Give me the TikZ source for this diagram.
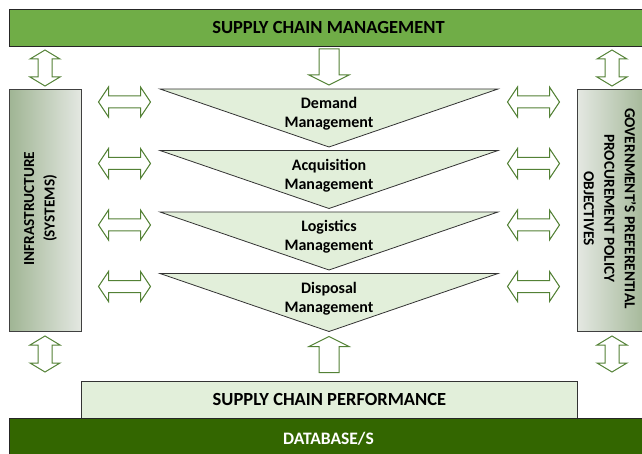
\documentclass[tikz,border=0pt]{standalone}
\usepackage{fontspec}
\setmainfont{Carlito}
\usetikzlibrary{shapes,positioning}

\definecolor{scmgreen}{RGB}{112,173,71}
\definecolor{dbgreen}{RGB}{51,102,0}
\definecolor{palegreen}{RGB}{226,239,218}
\definecolor{arrowgreen}{RGB}{83,129,53}
\definecolor{sidedark}{RGB}{160,181,148}
\definecolor{sidelight}{RGB}{228,232,226}

\begin{document}
\begin{tikzpicture}[x=1pt,y=-1pt]
\tikzset{
bar/.style={rectangle,draw=black!85,line width=0.9pt,anchor=north west,font=\bfseries\fontsize{18.5}{20}\selectfont},
sidebox/.style={rectangle,draw=black!75,line width=0.9pt,anchor=north west,minimum width=72pt,minimum height=242pt},
sidetext/.style={font=\bfseries\fontsize{15.3}{20.5}\selectfont,align=center},
stage/.style={draw=black!80,line width=0.8pt,fill=palegreen},
stagetext/.style={font=\bfseries\fontsize{16}{19}\selectfont,align=center,inner sep=0pt},
blockarrow/.style={draw=arrowgreen,line width=1pt,fill=white,line join=miter},
hdouble/.pic={\draw[blockarrow] (-26,0) -- (-16,-15) -- (-16,-6) -- (16,-6) -- (16,-15) -- (26,0) -- (16,15) -- (16,6) -- (-16,6) -- (-16,15) -- cycle;},
vdouble/.pic={\draw[blockarrow] (0,-18) -- (15,-9) -- (7,-9) -- (7,9) -- (15,9) -- (0,18) -- (-15,9) -- (-7,9) -- (-7,-9) -- (-15,-9) -- cycle;},
downarrow/.pic={\draw[blockarrow] (-10,-18) -- (10,-18) -- (10,8) -- (20,8) -- (0,18) -- (-20,8) -- (-10,8) -- cycle;},
}
\useasboundingbox (0,0) rectangle (642,454);

% top and bottom bars
\node[bar,fill=scmgreen,minimum width=638pt,minimum height=37pt] (scm) at (9,9) {SUPPLY CHAIN MANAGEMENT};
\node[bar,fill=palegreen,draw=black!80,minimum width=496pt,minimum height=37pt] (perf) at (81,381) {SUPPLY CHAIN PERFORMANCE};
\node[bar,fill=dbgreen,text=white,minimum width=638pt,minimum height=40pt,font=\bfseries\fontsize{17.5}{19}\selectfont] (db) at (9,418) {DATABASE/S};

% side boxes
\node[sidebox,left color=sidedark,right color=sidelight] (infra) at (9,89) {};
\node[sidetext,rotate=90] (infratext) at ([xshift=-5pt,yshift=2pt]infra.center) {INFRASTRUCTURE\\(SYSTEMS)};
\node[sidebox,left color=sidelight,right color=sidedark] (gov) at (577,89) {};
\node[sidetext,rotate=-90] (govtext) at ([xshift=-3.5pt,yshift=2pt]gov.center) {GOVERNMENT’S PREFERENTIAL\\PROCUREMENT POLICY\\OBJECTIVES};

% management stages
\foreach \name/\txt [count=\i from 0] in {demand/Demand,acq/Acquisition,log/Logistics,disp/Disposal} {
  \pgfmathsetmacro\ty{89+61.5*\i}
  \draw[stage] (160,\ty) -- (498,\ty) -- (329,\ty+58) -- cycle;
  \node[stagetext] (\name) at (329,\ty+25) {\txt\\Management};
  \pic (l\name) at (124.5,\ty+13) {hdouble};
  \pic (r\name) at (533.5,\ty+13) {hdouble};
}

% vertical arrows
\pic (infratop) at (45,68) {vdouble};
\pic (infrabot) at (45,354) {vdouble};
\pic (govtop) at (612,68) {vdouble};
\pic (govbot) at (612,354) {vdouble};
\pic (scmdown) at (329,67) {downarrow};
\pic[rotate=180] (perfup) at (329,354.5) {downarrow};
\end{tikzpicture}
\end{document}
